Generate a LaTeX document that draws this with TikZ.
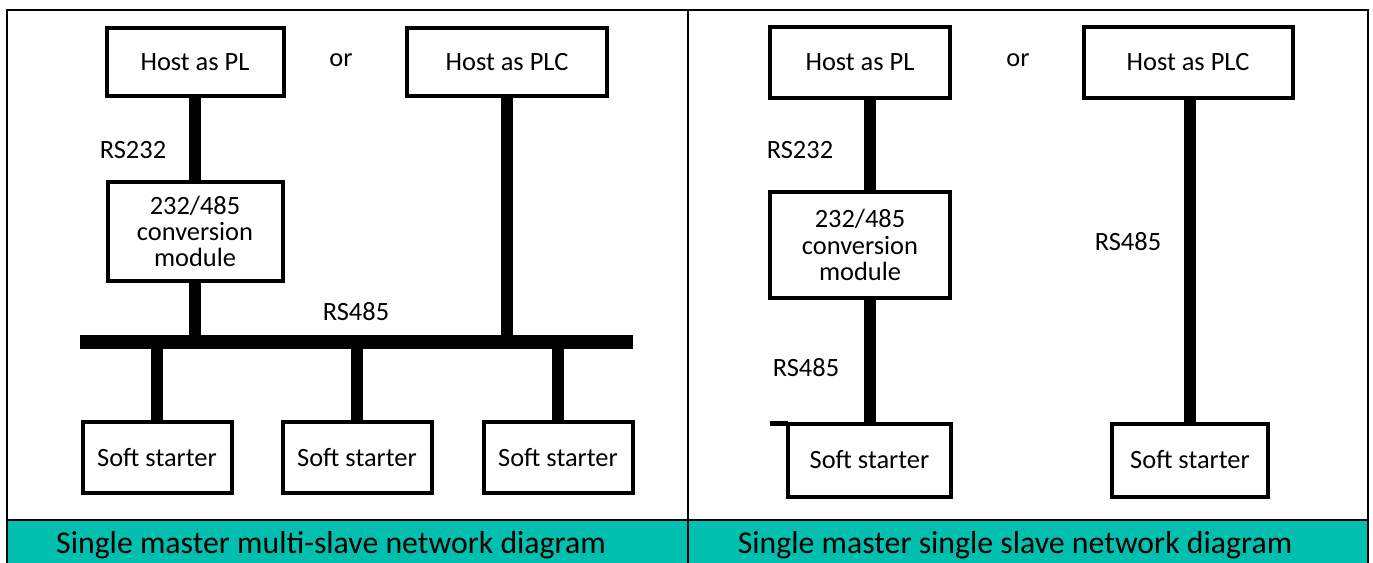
\documentclass[tikz,border=0pt]{standalone}
\usepackage{fontspec}
\setmainfont{Carlito}
\usepackage{tikz}
\usetikzlibrary{positioning}
\definecolor{bandteal}{RGB}{0,191,174}
\tikzset{
	every node/.append style={
		font={\fontsize{13.2}{13.2}\selectfont},
	},
	unit/.append style={
		draw,
		fill=white,
		line width=2pt,
		align = center,
		inner sep=0pt,
		outer sep=0pt,
	},
	labe/.append style={
		inner sep=0pt,
	},
	wire/.append style={
		line width=6pt,
	},
	busline/.append style={
		line width=7pt,
	},
	frame/.append style={
		line width=1.2pt,
	},
	caption/.append style={
		inner sep=0pt,
		font={\fontsize{15.9}{15.9}\selectfont}
	}
}

\begin{document}
\begin{tikzpicture}[x=0.5pt, y=-0.5pt]
			\useasboundingbox (0,0) rectangle (1373,563);

			% table frame and caption band
			\fill[bandteal] (7,520) rectangle (1368,570);
			\draw[frame] (7,570) -- (7,10) -- (1368,10) -- (1368,570);
			\draw[frame] (688,10) -- (688,570);
			\draw[frame] (7,520) -- (1368,520);
			\node(cap1)[caption] at (331,545) {Single master multi-slave network diagram};
			\node(cap2)[caption] at (1015,545) {Single master single slave network diagram};

			% single master, multi-slave
			\node(hostpl)[unit, minimum width=88.5pt, minimum height=34pt] at (195,62) {Host as PL};
			\node(or1)[labe] at (341,60) {or};
			\node(hostplc)[unit, minimum width=100pt, minimum height=34pt] at (507,62) {Host as PLC};
			\node(module)[unit, minimum width=87.5pt, minimum height=49.5pt] at (195,231.5) {232/485\\conversion\\module};
			\node(rs232)[labe] at (133,150) {RS232};
			\node(rs485)[labe] at (356,312) {RS485};
			\coordinate(busl) at (80,342);
			\coordinate(busr) at (633,342);

			\node(ss1)[unit, minimum width=74.5pt, minimum height=35.5pt] at (157,457.5) {Soft starter};
			\node(ss2)[unit, minimum width=74.5pt, minimum height=35.5pt] at (357,457.5) {Soft starter};
			\node(ss3)[unit, minimum width=74.5pt, minimum height=35.5pt] at (558,457.5) {Soft starter};

			\draw[busline] (busl) -- (busr);
			\draw[wire] (hostpl) -- (module);
			\draw[wire] (module) -- (module |- busl);
			\draw[wire] (hostplc) -- (hostplc |- busl);
			\foreach \s in {ss1, ss2, ss3}
				\draw[wire] (\s) -- (\s |- busl);

			% single master, single slave
			\node(hostpl2)[unit, minimum width=90pt, minimum height=35.5pt] at (860,62) {Host as PL};
			\node(or2)[labe] at (1018,60) {or};
			\node(hostplc2)[unit, minimum width=104.5pt, minimum height=35.5pt] at (1188,62) {Host as PLC};
			\node(module2)[unit, minimum width=90pt, minimum height=53pt] at (860,245) {232/485\\conversion\\module};
			\node(rs232b)[labe] at (800,150) {RS232};
			\node(rs485b)[labe] at (806,368) {RS485};
			\node(rs485c)[labe] at (1128,242) {RS485};

			\node(ss4)[unit, minimum width=81.5pt, minimum height=36.5pt] at (869.5,460) {Soft starter};
			\node(ss5)[unit, minimum width=78pt, minimum height=36.5pt] at (1190,460) {Soft starter};
			\coordinate(stub) at (770,423);

			\draw[wire] (ss4.north) -- (ss4 |- module2.south);
			\draw[wire] (ss4 |- module2.north) -- (ss4 |- hostpl2.south);
			\draw[wire] (ss5.north) -- (ss5 |- hostplc2.south);
			\draw[line width=2.5pt] (ss4.north west) -- (stub |- ss4.north);

		\end{tikzpicture}
\end{document}
